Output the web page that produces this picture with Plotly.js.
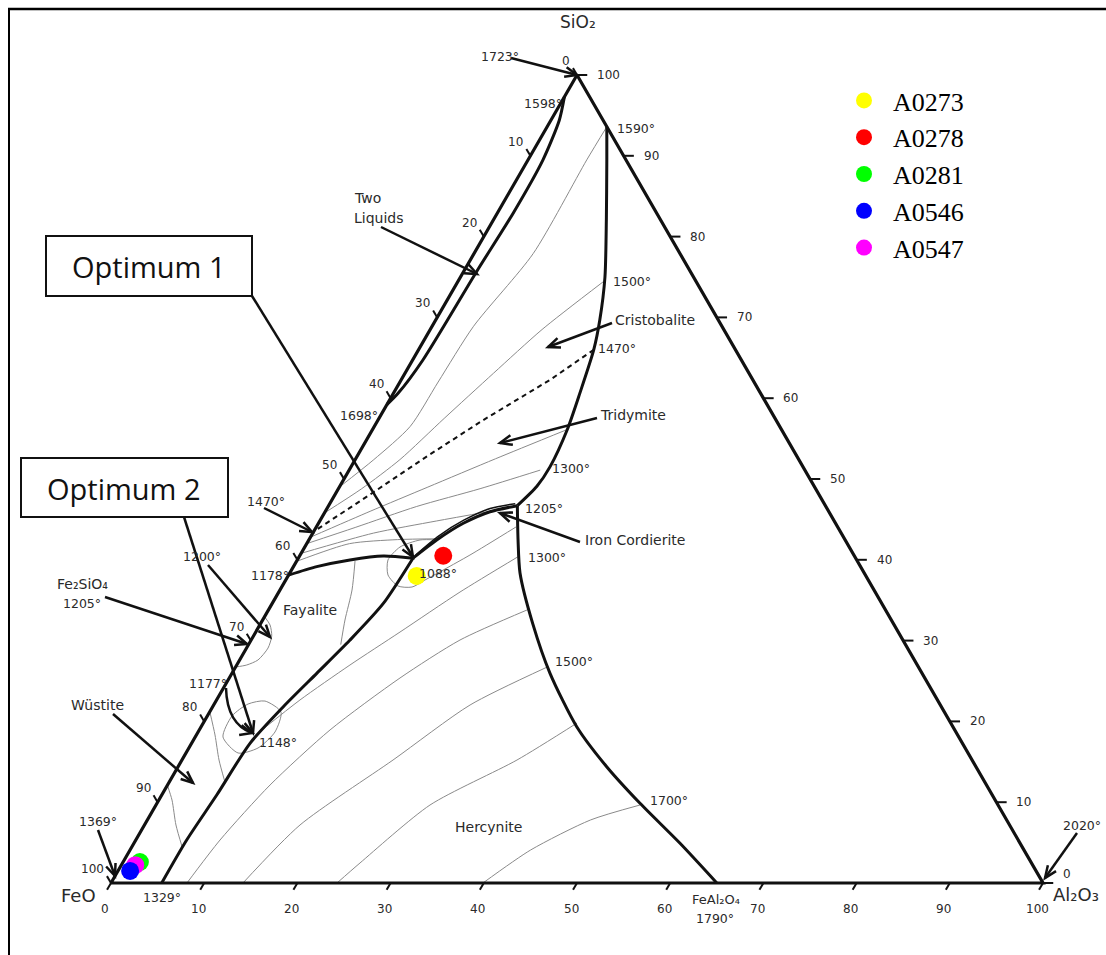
<!DOCTYPE html>
<html><head><meta charset="utf-8">
<script src="https://cdn.plot.ly/plotly-3.0.1.min.js"></script>
<style>html,body{margin:0;padding:0;background:#fff}</style>
</head><body><div id="chart" style="width:1106px;height:955px"></div>
<script>
// ===== DATA (compositions in wt%: SiO2, Al2O3; FeO = remainder) =====
const edge_SiO2 = [0, 100, 0, 0];
const edge_Al2O3 = [0, 0, 100, 0];
const tick_values = [0, 10, 20, 30, 40, 50, 60, 70, 80, 90, 100];

// thick phase boundaries
const twoLiquid_SiO2 = [97.3, 94.4, 89.5, 82.9, 75.9, 64.7, 60.6, 59.2];
const twoLiquid_Al2O3 = [0, 0.9, 1.6, 1.7, 1.4, 1.1, 0.5, 0];
const silica_SiO2 = [93.6, 89.5, 82.1, 75.0, 69.7, 66.0, 60.6, 56.1, 51.5, 49.1, 46.7];
const silica_Al2O3 = [6.4, 8.45, 12.1, 15.5, 17.6, 18.8, 20.0, 20.9, 21.35, 21.15, 20.25];
const hercynite_SiO2 = [46.7, 42.45, 38.37, 32.1, 25.95, 19.34, 14.39, 9.86, 4.91, 0];
const hercynite_Al2O3 = [20.25, 22.45, 24.7, 29.2, 34.13, 40.3, 45.99, 51.83, 58.6, 65.0];
const fayaliteTop_SiO2 = [38.1, 39.15, 39.98, 40.47, 40.2];
const fayaliteTop_Al2O3 = [0, 2.5, 5.65, 8.98, 12.3];
const fayaliteBase_SiO2 = [0, 5.32, 10.89, 17.29, 21.82, 25.95, 30.07, 34.6, 40.2];
const fayaliteBase_Al2O3 = [5.44, 5.46, 5.9, 6.27, 7.58, 9.1, 10.61, 11.92, 12.3];
const cordierite_SiO2 = [40.2, 42.45, 44.52, 45.95, 46.7];
const cordierite_Al2O3 = [12.3, 13.72, 15.54, 17.69, 20.25];
const cordierite2_SiO2 = [40.6, 42.85, 44.9, 46.35, 46.95];
const cordierite2_Al2O3 = [12.4, 13.6, 15.4, 17.5, 19.9];

// thin boundaries / loops
const fe2sio4_SiO2 = [32.95, 31.93, 30.57, 29.08, 27.6, 26.98, 26.73];
const fe2sio4_Al2O3 = [0, 1.1, 1.96, 2.31, 1.97, 1.07, 0];
const fayaliteThin_SiO2 = [39.85, 36.26, 32.55, 29.5];
const fayaliteThin_Al2O3 = [6.26, 7.73, 8.83, 9.9];
const wustite1_SiO2 = [21.2, 18.32, 15.22, 12.6];
const wustite1_Al2O3 = [0, 2.0, 3.98, 5.9];
const wustite2_SiO2 = [12.1, 10.27, 7.18, 4.4];
const wustite2_Al2O3 = [0, 1.41, 3.38, 5.45];
const loop1148_SiO2 = [18.07, 20.67, 22.15, 22.52, 21.16, 18.69, 16.71, 16.09, 18.07];
const loop1148_Al2O3 = [2.98, 2.65, 3.63, 5.26, 7.66, 8.25, 7.42, 5.59, 2.98];
const loop1088_SiO2 = [42.45, 42.45, 41.58, 39.98, 38.12, 36.76, 36.63, 37.5];
const loop1088_Al2O3 = [13.86, 11.93, 10.22, 9.73, 10.66, 12.41, 13.98, 14.94];

// isotherms above the fayalite/hercynite boundary
const iso1590_SiO2 = [93.6, 89.5, 77.9, 68.9, 62.0, 56.5, 52.4, 49.0];
const iso1590_Al2O3 = [6.4, 6.3, 6.35, 4.45, 4.1, 3.85, 2.0, 0];
const iso1500_SiO2 = [74.4, 68.5, 63.1, 57.5, 52.4, 48.8, 45.8];
const iso1500_Al2O3 = [15.6, 12.0, 9.5, 7.0, 4.8, 2.5, 0];
const iso1470_SiO2 = [66.0, 62.3, 57.3, 52.8, 48.0, 43.5];
const iso1470_Al2O3 = [18.8, 16.0, 11.3, 7.5, 3.7, 0];
const isoT1_SiO2 = [56.1, 52.5, 49.0, 46.0, 42.8];
const isoT1_Al2O3 = [20.85, 15.0, 9.5, 4.8, 0];
const iso1300a_SiO2 = [51.1, 48.8, 46.6, 44.0, 42.0];
const iso1300a_Al2O3 = [20.5, 15.2, 9.5, 4.2, 0];
const isoT2_SiO2 = [46.0, 44.8, 43.3, 40.8];
const isoT2_Al2O3 = [17.7, 12.5, 6.5, 0];
const isoT3_SiO2 = [42.6, 42.5, 42.0, 39.8];
const isoT3_Al2O3 = [13.8, 9.5, 4.6, 0];

// isotherms in the hercynite field
const isoH0_SiO2 = [37.5, 40.59, 44.06];
const isoH0_Al2O3 = [14.94, 18.22, 21.42];
const iso1300b_SiO2 = [18.94, 22.65, 26.98, 31.06, 36.01, 40.4];
const iso1300b_Al2O3 = [6.73, 8.95, 12.15, 15.48, 19.44, 23.5];
const isoH2_SiO2 = [0, 5.32, 12.13, 18.94, 25.37, 30.07, 33.79];
const isoH2_Al2O3 = [8.15, 9.04, 11.0, 14.03, 18.32, 22.41, 27.74];
const iso1500b_SiO2 = [0, 7.18, 15.22, 22.03, 26.7];
const iso1500b_Al2O3 = [14.16, 16.69, 22.65, 27.51, 33.4];
const isoH4_SiO2 = [0, 2.48, 9.65, 15.22, 19.8];
const isoH4_Al2O3 = [24.25, 25.48, 29.4, 35.95, 40.1];
const iso1700_SiO2 = [0, 4.08, 7.8, 9.65];
const iso1700_Al2O3 = [39.91, 42.98, 47.55, 51.93];

// samples
const sample_names = ['A0273', 'A0278', 'A0281', 'A0546', 'A0547'];
const sample_SiO2 = [38.0, 40.5, 2.6, 1.5, 2.2];
const sample_Al2O3 = [13.8, 15.4, 1.8, 1.3, 1.5];
const sample_colors = ['#ffff00', '#ff0000', '#00ff00', '#0000ff', '#ff00ff'];

// ===== GEOMETRY =====
const W = 1106, H = 955;
const X0 = 111, SX = 9.32, Y0 = 883, SY = 8.08; // pixel calibration of the triangle
const toX = (s, a) => (s === null ? null : a + s / 2);
const pix = (px, py) => ({ x: (px - X0) / SX, y: (Y0 - py) / SY });

const traces = [];
function addLine(S, A, width, color, opts) {
  opts = opts || {};
  traces.push({
    type: 'scatter', mode: 'lines',
    x: S.map((s, i) => toX(s, A[i])), y: S.slice(),
    line: { width: width, color: color, dash: opts.dash || 'solid', shape: opts.shape || 'spline', smoothing: 0.7 },
    hoverinfo: 'skip', showlegend: false, connectgaps: false
  });
}
const THIN = '#8a8a8a', BLK = '#111';
[[iso1590_SiO2, iso1590_Al2O3], [iso1500_SiO2, iso1500_Al2O3], [isoT1_SiO2, isoT1_Al2O3],
 [iso1300a_SiO2, iso1300a_Al2O3], [isoT2_SiO2, isoT2_Al2O3], [isoT3_SiO2, isoT3_Al2O3],
 [isoH0_SiO2, isoH0_Al2O3], [iso1300b_SiO2, iso1300b_Al2O3], [isoH2_SiO2, isoH2_Al2O3],
 [iso1500b_SiO2, iso1500b_Al2O3], [isoH4_SiO2, isoH4_Al2O3], [iso1700_SiO2, iso1700_Al2O3],
 [fe2sio4_SiO2, fe2sio4_Al2O3], [fayaliteThin_SiO2, fayaliteThin_Al2O3],
 [wustite1_SiO2, wustite1_Al2O3], [wustite2_SiO2, wustite2_Al2O3],
 [loop1148_SiO2, loop1148_Al2O3], [loop1088_SiO2, loop1088_Al2O3]
].forEach(c => addLine(c[0], c[1], 1, THIN));
addLine(iso1470_SiO2, iso1470_Al2O3, 2, BLK, { dash: '5px,4px', shape: 'linear' });
addLine(twoLiquid_SiO2, twoLiquid_Al2O3, 3, BLK);
addLine(silica_SiO2, silica_Al2O3, 3, BLK);
addLine(hercynite_SiO2, hercynite_Al2O3, 3, BLK);
addLine(fayaliteTop_SiO2, fayaliteTop_Al2O3, 3, BLK);
addLine(fayaliteBase_SiO2, fayaliteBase_Al2O3, 3, BLK);
addLine(cordierite_SiO2, cordierite_Al2O3, 3, BLK);
addLine(cordierite2_SiO2, cordierite2_Al2O3, 1.5, BLK);
addLine(edge_SiO2, edge_Al2O3, 3.2, BLK, { shape: 'linear' });

// ticks (built from tick values)
const tk = { S: [], A: [] };
tick_values.forEach(v => {
  tk.S.push(0, -0.85, null); tk.A.push(v, v, null);                    // Al2O3 (bottom)
  tk.S.push(100 - v, 100 - v + 0.85, null); tk.A.push(0, -0.86, null); // FeO (left)
  tk.S.push(v, v, null); tk.A.push(100 - v, 100 - v + 1.1, null);      // SiO2 (right)
});
addLine(tk.S, tk.A, 2, BLK, { shape: 'linear' });

// samples (drawing order keeps blue on top of magenta on top of green)
[0, 1, 2, 4, 3].forEach(i => {
  traces.push({
    type: 'scatter', mode: 'markers', name: sample_names[i],
    x: [toX(sample_SiO2[i], sample_Al2O3[i])], y: [sample_SiO2[i]],
    marker: { size: 18, color: sample_colors[i], line: { width: 0 } },
    legendrank: i + 1, hoverinfo: 'name'
  });
});

// ===== ANNOTATIONS =====
const LBL = 'DejaVu Sans, Verdana, sans-serif', TXT = '#2a2a2a';
const ann = [];
function label(text, px, py, size, anchor) {
  const p = pix(px, py);
  ann.push({ x: p.x, y: p.y, xref: 'x', yref: 'y', text: text, showarrow: false,
    xanchor: anchor || 'center', yanchor: 'middle', font: { family: LBL, size: size || 12.5, color: TXT } });
}
tick_values.forEach(v => {
  ann.push({ x: toX(0, v), y: 0, text: String(v), showarrow: false, xanchor: 'center', yanchor: 'middle',
    xshift: -6, yshift: -26, font: { family: LBL, size: 12, color: TXT } });
  ann.push({ x: toX(100 - v, 0), y: 100 - v, text: String(v), showarrow: false, xanchor: 'right', yanchor: 'middle',
    xshift: -5, yshift: 14, font: { family: LBL, size: 12, color: TXT } });
  ann.push({ x: toX(v, 100 - v), y: v, text: String(v), showarrow: false, xanchor: 'left', yanchor: 'middle',
    xshift: 18, yshift: v === 0 ? 9 : 0, font: { family: LBL, size: 12, color: TXT } });
});
label('SiO₂', 578, 22, 17);
label('FeO', 78, 895, 18);
label('Al₂O₃', 1076, 894, 18);
label('1723°', 500, 56); label('1598°', 543, 103); label('1590°', 636, 128);
label('Two', 352, 198, 14, 'left'); label('Liquids', 352, 218, 14, 'left');
label('1500°', 632, 281); label('Cristobalite', 655, 320, 14); label('1470°', 617, 348);
label('1698°', 359, 415); label('Tridymite', 633, 415, 14); label('1300°', 571, 468);
label('1470°', 266, 501); label('1205°', 544, 508); label('Iron Cordierite', 583, 540, 14, 'left');
label('1300°', 547, 557); label('1200°', 202, 556); label('1088°', 438, 573); label('1178°', 270, 575);
label('Fe₂SiO₄', 82, 584, 14); label('1205°', 82, 603); label('Fayalite', 310, 610, 14);
label('1500°', 574, 661); label('1177°', 208, 683); label('Wüstite', 97, 705, 14); label('1148°', 278, 742);
label('1700°', 669, 800); label('1369°', 98, 821); label('2020°', 1082, 825); label('Hercynite', 488, 827, 14);
label('1329°', 162, 897); label('FeAl₂O₄', 716, 899, 13); label('1790°', 715, 918);

const optText = (t, px, py) => { const p = pix(px, py);
  ann.push({ x: p.x, y: p.y, xref: 'x', yref: 'y', text: t, showarrow: false, xanchor: 'center', yanchor: 'middle',
    font: { family: 'Open Sans, sans-serif', size: 29, color: '#111' } }); };
optText('Optimum 1', 149, 266);
optText('Optimum 2', 124, 488);

// ===== SHAPES: frame, boxes, arrows =====
const shapes = [];
const b1a = pix(46, 296), b1b = pix(252, 236), b2a = pix(21, 517), b2b = pix(228, 458);
shapes.push({ type: 'rect', xref: 'x', yref: 'y', x0: b1a.x, y0: b1a.y, x1: b1b.x, y1: b1b.y, line: { color: BLK, width: 2 } });
shapes.push({ type: 'rect', xref: 'x', yref: 'y', x0: b2a.x, y0: b2a.y, x1: b2b.x, y1: b2b.y, line: { color: BLK, width: 2 } });
shapes.push({ type: 'line', xref: 'paper', yref: 'paper', x0: 8 / W, x1: 1, y0: 1 - 9 / H, y1: 1 - 9 / H, line: { color: '#000', width: 2.5 } });
shapes.push({ type: 'line', xref: 'paper', yref: 'paper', x0: 9 / W, x1: 9 / W, y0: 1 - 9 / H, y1: 0, line: { color: '#000', width: 2 } });

function arrowHead(fx, fy, hx, hy) {
  const dx = hx - fx, dy = hy - fy, L = Math.hypot(dx, dy), ux = dx / L, uy = dy / L;
  const len = 12, wid = 5;
  const a = pix(hx - len * ux + wid * uy, hy - len * uy - wid * ux);
  const b = pix(hx - len * ux - wid * uy, hy - len * uy + wid * ux);
  const h = pix(hx, hy);
  shapes.push({ type: 'path', xref: 'x', yref: 'y', path: `M ${a.x},${a.y} L ${h.x},${h.y} L ${b.x},${b.y}`, line: { color: BLK, width: 2.5 } });
}
function arrow(tx, ty, hx, hy) {
  const t = pix(tx, ty), h = pix(hx, hy);
  shapes.push({ type: 'line', xref: 'x', yref: 'y', x0: t.x, y0: t.y, x1: h.x, y1: h.y, line: { color: BLK, width: 2.5 } });
  arrowHead(tx, ty, hx, hy);
}
[[511, 58, 577, 75], [381, 227, 477, 274], [252, 296, 413, 557], [184, 517, 253, 733],
 [264, 508, 312, 532], [208, 565, 270, 637], [105, 597, 247, 644], [113, 714, 193, 783],
 [98, 830, 115, 876], [612, 323, 548, 347], [597, 418, 500, 443], [580, 542, 500, 513],
 [1077, 833, 1045, 878]
].forEach(a => arrow(a[0], a[1], a[2], a[3]));
// curved arrow from 1177°
const c0 = pix(226, 688), c1 = pix(227, 724), c2 = pix(252, 733);
shapes.push({ type: 'path', xref: 'x', yref: 'y', path: `M ${c0.x},${c0.y} Q ${c1.x},${c1.y} ${c2.x},${c2.y}`, line: { color: BLK, width: 2.5 } });
arrowHead(236, 729, 252, 733);

const layout = {
  width: W, height: H, autosize: false,
  margin: { l: 0, r: 0, t: 0, b: 0 },
  paper_bgcolor: '#fff', plot_bgcolor: '#fff',
  xaxis: { range: [-X0 / SX, (W - X0) / SX], visible: false, fixedrange: true },
  yaxis: { range: [(Y0 - H) / SY, Y0 / SY], visible: false, fixedrange: true },
  showlegend: true,
  legend: { x: 835 / W, y: 1 - 77 / H, xanchor: 'left', yanchor: 'top', bgcolor: 'rgba(0,0,0,0)', itemwidth: 48,
    font: { family: 'Liberation Serif, Times New Roman, serif', size: 26, color: '#000' } },
  annotations: ann, shapes: shapes
};
Plotly.newPlot('chart', traces, layout, { displayModeBar: false, staticPlot: true });
</script></body></html>
